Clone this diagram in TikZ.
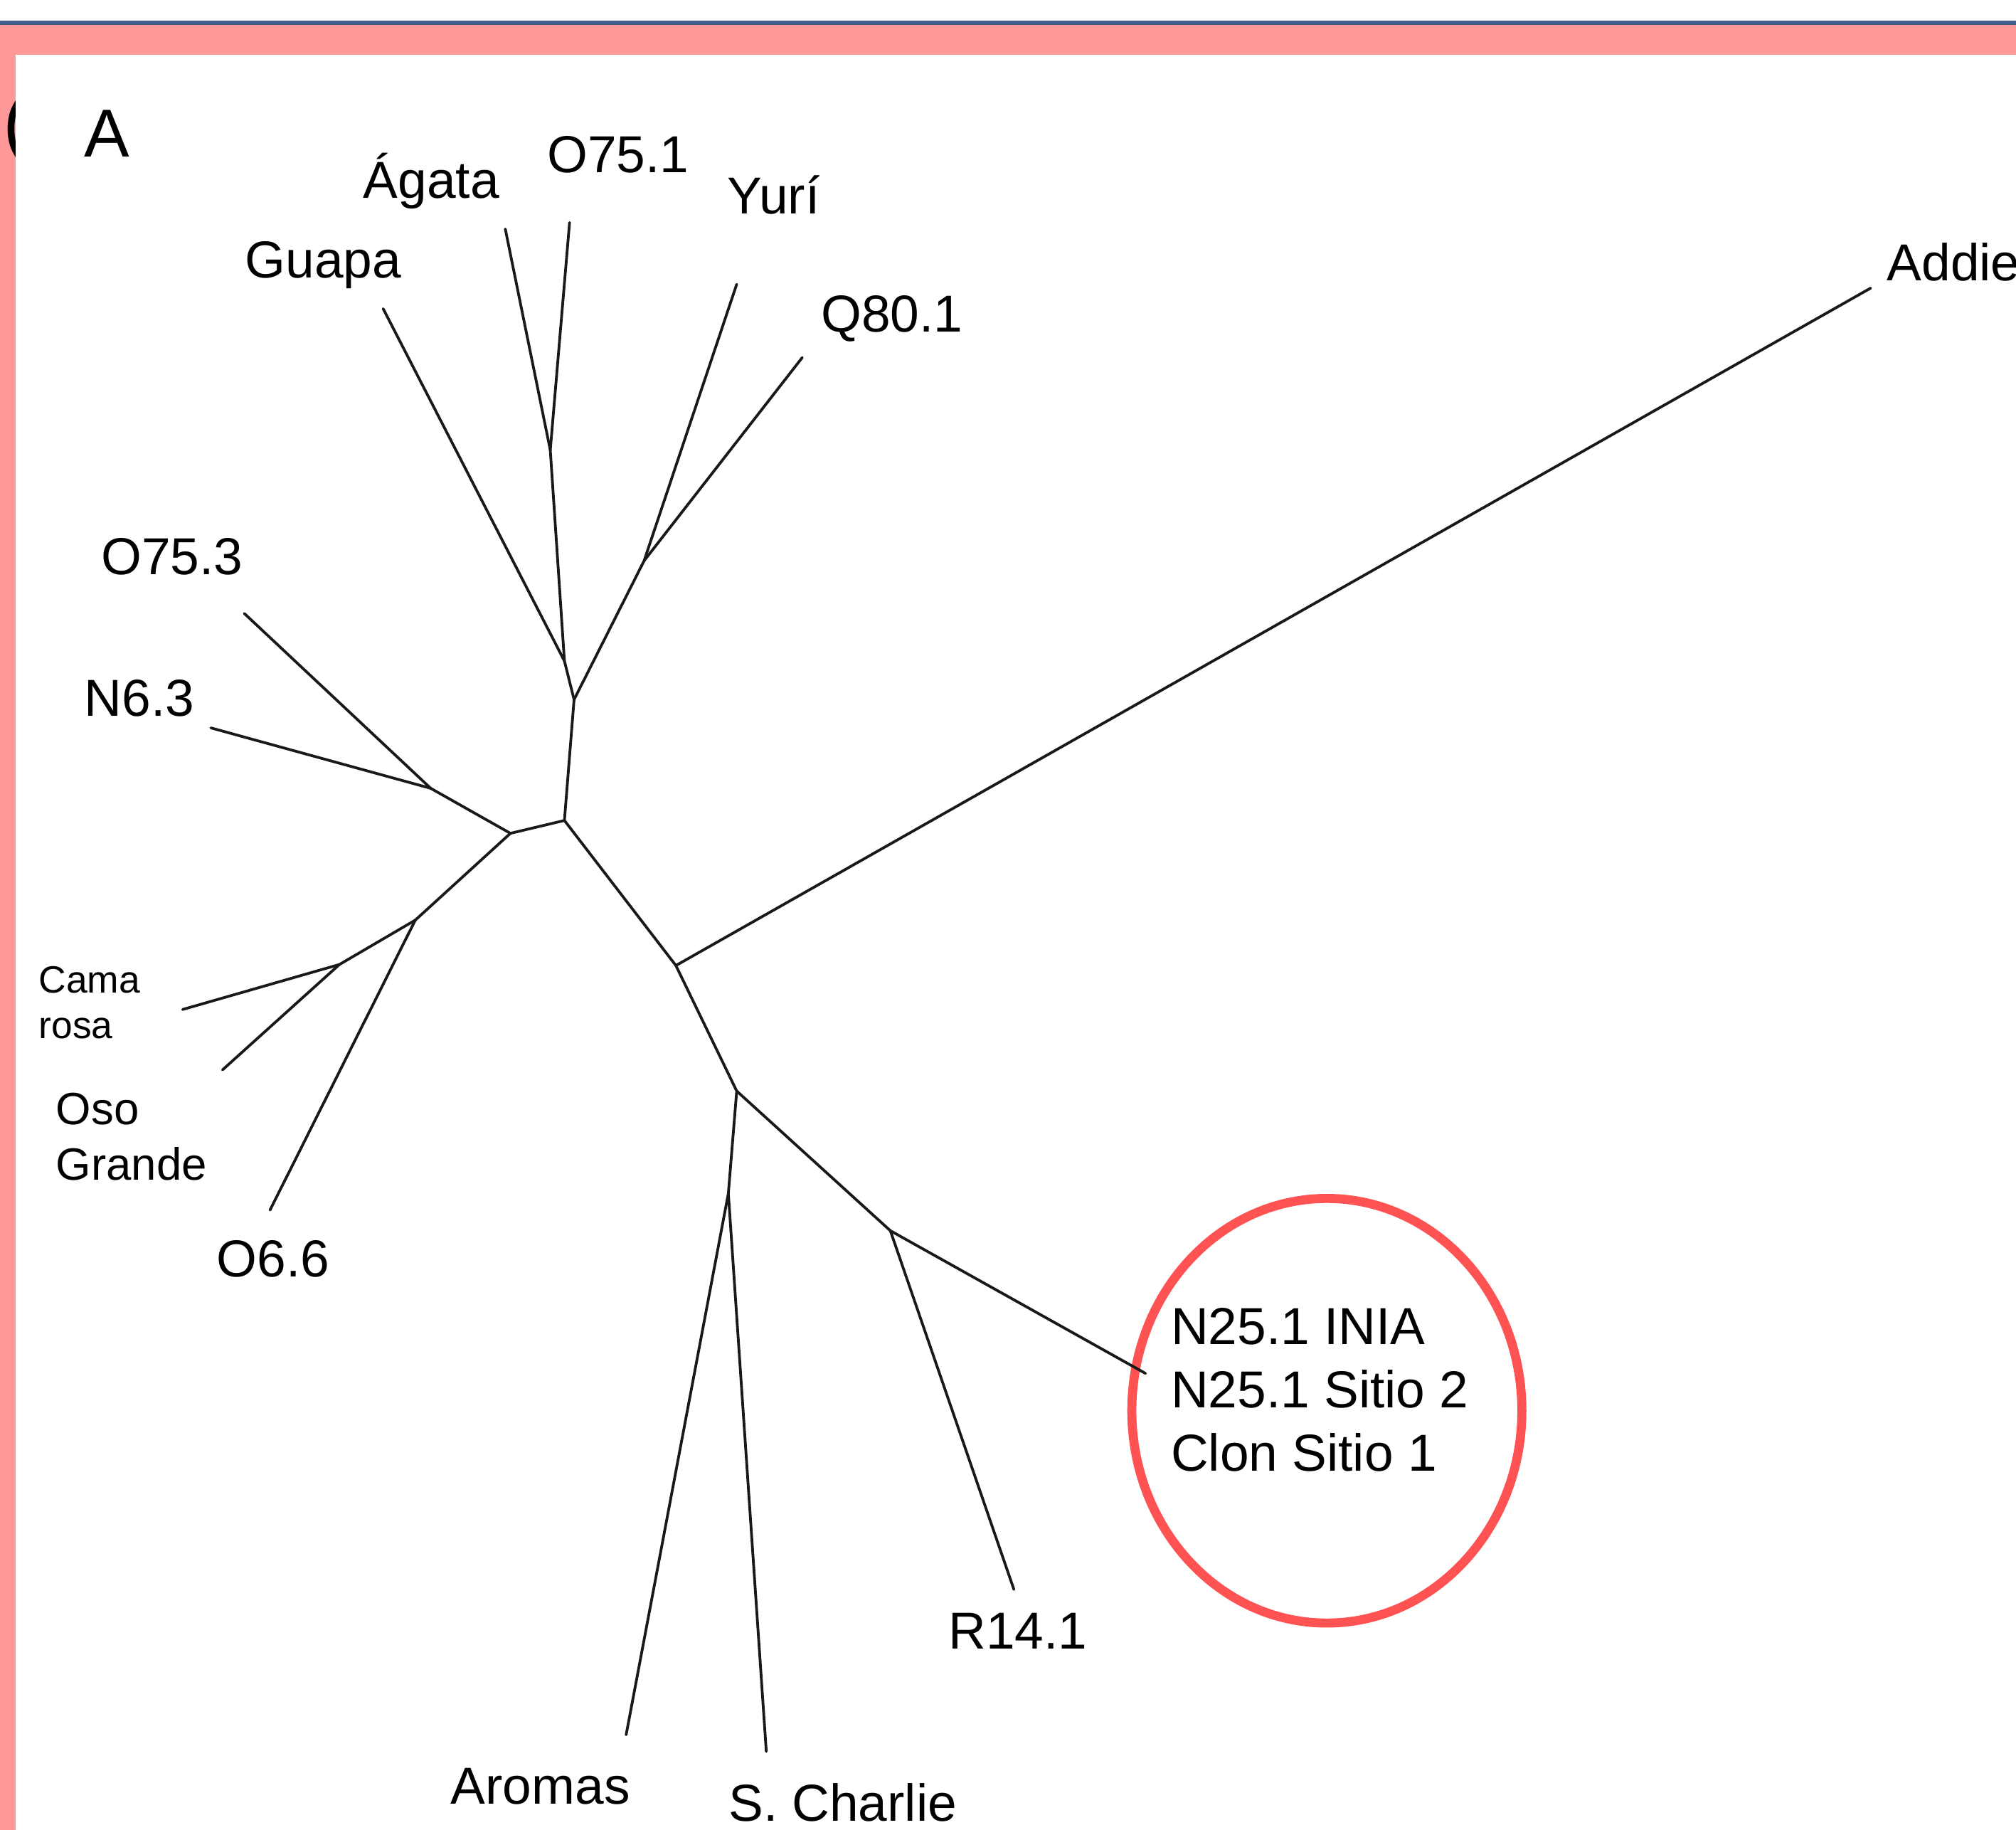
\documentclass[tikz,border=0pt]{standalone}
\usepackage{fontspec}
\setmainfont{Liberation Sans}
\usepackage{tikz}
\usepackage{xcolor}
\usetikzlibrary{positioning}
\definecolor{framepink}{RGB}{255,153,153}
\definecolor{frameblue}{RGB}{64,94,138}
\definecolor{ringred}{RGB}{255,82,82}
\tikzstyle{taxon} = [inner sep=0pt, anchor=base west, align=left, font=\fontsize{11.5}{14}\selectfont]
\tikzstyle{smalltaxon} = [taxon, font=\fontsize{8.4}{10.1}\selectfont]
\tikzstyle{midtaxon} = [taxon, font=\fontsize{10}{12.3}\selectfont]
\tikzstyle{panel} = [inner sep=0pt, anchor=base west, font=\fontsize{15}{15}\selectfont]
\tikzstyle{branch} = [line width=0.6pt, black!90, line cap=round, line join=round]
\tikzstyle{ring} = [draw=ringred, line width=2pt]

\begin{document}
\begin{tikzpicture}[x=0.01cm, y=-0.01cm]
        \useasboundingbox (0,0) rectangle (1568,1423);
        % frame of the slide
        \fill [frameblue] (0,16.3) rectangle (1568,19.5);
        \fill [framepink] (0,19.5) rectangle (1568,42.8);
        \fill [framepink] (0,19.5) rectangle (12,1423);
        \begin{scope}
            \clip (0,42.8) rectangle (12,1423);
            \node (paren) [panel, font=\fontsize{17}{17}\selectfont] at (2,116) {(};
        \end{scope}
        \node (panelA) [panel] at (65,122) {A};

        % inner nodes of the tree
        \coordinate (jAO) at (428,350);
        \coordinate (jG) at (439,514);
        \coordinate (jY) at (446.5,544);
        \coordinate (jYQ) at (501,436);
        \coordinate (m1) at (439,638);
        \coordinate (m2) at (397,648);
        \coordinate (jON) at (335,613);
        \coordinate (jO6) at (323,715.5);
        \coordinate (jCO) at (264,750);
        \coordinate (jAd) at (525.7,750.8);
        \coordinate (j3) at (573,848.4);
        \coordinate (j4) at (566.5,928);
        \coordinate (j5) at (692.5,957);

        % leaves
        \coordinate (tAgata) at (393,178);
        \coordinate (tO751) at (443,173);
        \coordinate (tGuapa) at (298,240);
        \coordinate (tYuri) at (573,221);
        \coordinate (tQ80) at (624,278);
        \coordinate (tAddie) at (1455,224);
        \coordinate (tO753) at (190,477);
        \coordinate (tN63) at (164,566);
        \coordinate (tCama) at (142,785);
        \coordinate (tOso) at (173,832);
        \coordinate (tO66) at (210,941);
        \coordinate (tAromas) at (487,1349);
        \coordinate (tCharlie) at (596,1362);
        \coordinate (tR141) at (788.6,1236);
        \coordinate (tN25) at (891,1068);

        % labels (multi-line ones sit on their last line)
        \node (lAgata) [taxon] at (282,154) {Ágata};
        \node (lO751) [taxon] at (425,134) {O75.1};
        \node (lYuri) [taxon] at (565,166) {Yurí};
        \node (lGuapa) [taxon] at (190,216) {Guapa};
        \node (lQ80) [taxon] at (638,258) {Q80.1};
        \node (lAddie) [taxon] at (1467,218) {Addie};
        \node (lO753) [taxon] at (78,446.5) {O75.3};
        \node (lN63) [taxon] at (65,557) {N6.3};
        \node (lCama) [smalltaxon] at (29.5,807.5) {Cama\\rosa};
        \node (lOso) [midtaxon] at (43,917.7) {Oso\\Grande};
        \node (lO66) [taxon] at (168,993) {O6.6};
        \node (lN25) [taxon] at (910,1143.7) {N25.1 INIA\\N25.1 Sitio 2\\Clon Sitio 1};
        \node (lR141) [taxon] at (737,1282) {R14.1};
        \node (lAromas) [taxon] at (350,1403) {Aromas};
        \node (lCharlie) [taxon] at (566,1416) {S. Charlie};

        \draw [ring] (1032,1097) ellipse [x radius=1.516cm, y radius=1.65cm];

        % branches
        \draw [branch] (tAgata) -- (jAO) -- (jG) -- (jY) -- (m1);
        \draw [branch] (tO751) -- (jAO);
        \draw [branch] (tGuapa) -- (jG);
        \draw [branch] (tYuri) -- (jYQ) -- (jY);
        \draw [branch] (tQ80) -- (jYQ);
        \draw [branch] (m1) -- (m2) -- (jON) -- (tN63);
        \draw [branch] (tO753) -- (jON);
        \draw [branch] (m2) -- (jO6) -- (tO66);
        \draw [branch] (jO6) -- (jCO) -- (tCama);
        \draw [branch] (jCO) -- (tOso);
        \draw [branch] (m1) -- (jAd) -- (tAddie);
        \draw [branch] (jAd) -- (j3) -- (j4) -- (tAromas);
        \draw [branch] (j4) -- (tCharlie);
        \draw [branch] (j3) -- (j5) -- (tN25);
        \draw [branch] (j5) -- (tR141);

    \end{tikzpicture}
\end{document}
